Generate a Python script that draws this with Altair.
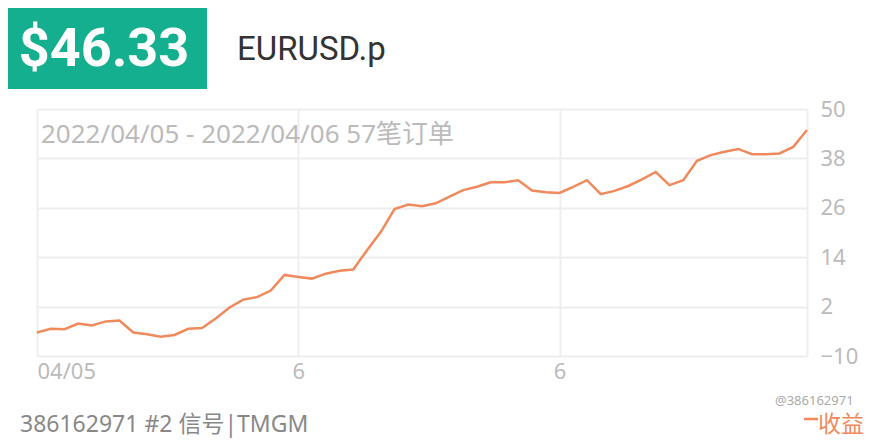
import altair as alt
import pandas as pd

# ---- data ----
values = [-4.3, -3.4, -3.5, -2.1, -2.6, -1.6, -1.4, -4.3, -4.7, -5.3,
          -4.9, -3.4, -3.2, -0.9, 1.8, 3.7, 4.3, 5.9, 9.7, 9.2,
          8.8, 10.0, 10.7, 11.0, 15.7, 20.1, 25.7, 26.8, 26.4, 27.1,
          28.7, 30.3, 31.1, 32.2, 32.2, 32.7, 30.2, 29.8, 29.6, 31.1,
          32.7, 29.3, 30.1, 31.3, 32.9, 34.7, 31.5, 32.7, 37.4, 38.8,
          39.6, 40.3, 39.0, 39.0, 39.2, 40.8, 44.9]
order_index = list(range(len(values)))
x_tick_values = [0, 19, 38, 56]
x_tick_labels = ["04/05", "6", "6", ""]
y_tick_values = [-10, 2, 14, 26, 38, 50]

badge_text = "$46.33"
symbol_text = "EURUSD.p"
subtitle_text = "2022/04/05 - 2022/04/06 57笔订单"
footer_text = "386162971 #2 信号|TMGM"
legend_text = "收益"
watermark_text = "@386162971"

LINE = "#f08a5d"
GRID = "#eeeeee"
LABEL = "#bbbbbb"
MIXED = "Noto Sans, 'Noto Sans CJK SC'"

df = pd.DataFrame({"i": order_index, "v": values})

label_expr = " : ".join(
    [f"datum.value == {v} ? '{t}'" for v, t in zip(x_tick_values, x_tick_labels)]
) + " : ''"

line = alt.Chart(df).mark_line(color=LINE, strokeWidth=2.5).encode(
    x=alt.X("i:Q",
            scale=alt.Scale(domain=[0, 56], nice=False, zero=False),
            axis=alt.Axis(values=x_tick_values, labelExpr=label_expr, grid=True,
                          gridColor=GRID, gridWidth=2, domain=False, ticks=False,
                          labelFlush=True, labelFontSize=22, labelColor=LABEL,
                          labelFont="Noto Sans", labelPadding=5, title=None)),
    y=alt.Y("v:Q",
            scale=alt.Scale(domain=[-10, 50], nice=False, zero=False),
            axis=alt.Axis(orient="right", values=y_tick_values, grid=True,
                          gridColor=GRID, gridWidth=2, domain=False, ticks=False,
                          labelFontSize=22, labelColor=LABEL, labelFont="Noto Sans",
                          labelPadding=13, labelBaseline="middle", title=None)),
)

one = pd.DataFrame({"t": [""]})

badge = alt.Chart(one).mark_rect(color="#14af8e").encode(
    x=alt.value(-29), x2=alt.value(170), y=alt.value(-101), y2=alt.value(-20))

def label(text, x, y, size, color, font=MIXED, weight="normal", align="left"):
    return alt.Chart(pd.DataFrame({"t": [text]})).mark_text(
        font=font, fontSize=size, color=color, fontWeight=weight,
        align=align, baseline="alphabetic").encode(
        x=alt.value(x), y=alt.value(y), text="t:N")

badge_lbl = label(badge_text, 67, -43, 54, "white", font="Roboto", weight="bold", align="center")
symbol_lbl = label(symbol_text, 200, -49, 33, "#333333", font="Roboto")
subtitle_lbl = label(subtitle_text, 4, 34, 26, LABEL)
footer_lbl = label(footer_text, -17, 323, 23, "#888888")
legend_lbl = label(legend_text, 781, 323, 23, LINE, font="Noto Sans CJK SC")
watermark_lbl = label(watermark_text, 738, 296, 13, "#aaaaaa", font="Noto Sans")

legend_dash = alt.Chart(one).mark_rule(color=LINE, strokeWidth=2.5).encode(
    x=alt.value(767), x2=alt.value(781), y=alt.value(310))

chart = alt.layer(
    line, badge, badge_lbl, symbol_lbl, subtitle_lbl, footer_lbl,
    watermark_lbl, legend_dash, legend_lbl
).properties(
    width=770, height=247,
    padding={"left": 29, "top": 101, "right": 65, "bottom": 83},
    autosize=alt.AutoSizeParams(type="none"),
).configure_view(stroke=None)

chart.save("out.html", embed_options={"renderer": "svg", "actions": False})
